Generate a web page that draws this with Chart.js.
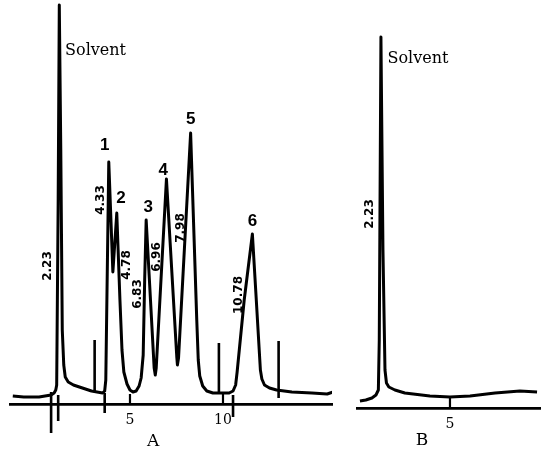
<!DOCTYPE html>
<html>
<head>
<meta charset="utf-8">
<script src="https://cdn.jsdelivr.net/npm/chart.js@4.4.1/dist/chart.umd.min.js"></script>
<style>
  html, body { margin: 0; padding: 0; background: #fff; }
  #wrap { position: relative; width: 543px; height: 456px; overflow: hidden; background: #fff; }
  canvas { position: absolute; top: 0; }
</style>
</head>
<body>
<div id="wrap">
  <canvas id="chartA" width="345" height="456" style="left:0"></canvas>
  <canvas id="chartB" width="198" height="456" style="left:345px"></canvas>
</div>
<script>
// --- Chromatogram A (time in min, detector response) ---
const timeA = [-1.30, -0.71, 0.11, 0.76, 0.92, 1.01, 1.06, 1.14, 1.20, 1.28, 1.36, 1.44, 1.52, 1.68, 1.96,
  2.28, 2.93, 3.53, 3.64, 3.70, 3.86, 4.08, 4.29, 4.46, 4.57, 4.67, 4.84, 5.00, 5.16, 5.33,
  5.49, 5.60, 5.71, 5.79, 5.87, 6.30, 6.36, 6.41, 6.96, 7.52, 7.55, 7.61, 8.26, 8.59, 8.67,
  8.75, 8.91, 9.13, 9.46, 10.33, 10.54, 10.68, 10.76, 11.14, 11.58, 11.79, 12.01, 12.09, 12.23,
  12.50, 12.88, 13.70, 14.78, 15.60, 15.92];
const signalA = [8, 7, 7, 9, 11, 14, 19, 204, 399, 254, 74, 39, 27, 22, 19,
  17, 13, 11, 13, 24, 242, 132, 191, 104, 54, 32, 20, 14, 12, 13,
  18, 26, 49, 124, 184, 36, 29, 36, 225, 46, 39, 46, 271, 84, 44,
  28, 18, 13, 11, 11, 13, 19, 32, 104, 170, 104, 34, 25, 19,
  16, 14, 12, 11, 10, 12];

// recorder event marks (vertical strokes)
const markTimeA = [3.10, 9.78, 12.99, 0.76, 1.14, 3.64, 10.54];
const markFromA = [12, 11, 6, 12, 9, 11, 9];
const markToA   = [64, 61, 63, -29, -17, -9, -13];

const ticksA = [5, 10];

// peak numbers
const peakNames = ['1', '2', '3', '4', '5', '6'];
const peakNameX = [3.64, 4.51, 5.98, 6.79, 8.26, 11.58];
const peakNameY = [259, 206, 197, 234, 285, 183];

// retention times printed by the integrator
const rtTextA = ['2.23', '4.33', '4.78', '6.83', '6.96', '7.98', '10.78'];
const rtXA = [0.60, 3.42, 4.84, 5.43, 6.47, 7.72, 10.87];
const rtYA = [138, 204, 139, 110, 147, 176, 109];

// --- Chromatogram B ---
const timeB = [0.11, 0.43, 0.76, 0.98, 1.11, 1.16, 1.25, 1.36, 1.47, 1.55, 1.68, 2.01, 2.55, 3.91, 5.00, 6.09, 7.45, 8.80, 9.73];
const signalB = [7, 8, 10, 13, 18, 68, 371, 158, 38, 25, 21, 18, 15, 12, 11, 12, 15, 17, 16];
const ticksB = [5];
const rtTextB = ['2.23'];
const rtXB = [0.65];
const rtYB = [194];

const TICK_H = 10;
const serif = '"DejaVu Serif", "Liberation Serif", serif';

const textPlugin = {
  id: 'texts',
  afterDatasetsDraw(chart, args, opts) {
    const ctx = chart.ctx;
    const x = chart.scales.x, y = chart.scales.y;
    ctx.save();
    ctx.fillStyle = '#000';
    ctx.textAlign = 'center';
    ctx.textBaseline = 'middle';
    (opts.items || []).forEach(it => {
      const px = x.getPixelForValue(it.x), py = y.getPixelForValue(it.y);
      ctx.font = it.font;
      if (it.rotate) {
        ctx.save();
        ctx.translate(px, py);
        ctx.rotate(-Math.PI / 2);
        ctx.fillText(it.text, 0, 0);
        ctx.restore();
      } else {
        ctx.fillText(it.text, px, py);
      }
    });
    ctx.restore();
  }
};

function segments(xs, from, to) {
  const pts = [];
  xs.forEach((v, i) => {
    pts.push({ x: v, y: from[i] }, { x: v, y: to[i] }, { x: v, y: null });
  });
  return pts;
}

function makeChart(id, o) {
  const trace = o.time.map((t, i) => ({ x: t, y: o.signal[i] }));
  const tickMarks = segments(o.ticks, o.ticks.map(() => 0), o.ticks.map(() => TICK_H));
  const marks = o.marks ? segments(o.marks.t, o.marks.from, o.marks.to) : [];
  const line = { showLine: true, pointRadius: 0, borderColor: '#000', borderWidth: 2.5, spanGaps: false, tension: 0 };
  return new Chart(document.getElementById(id), {
    type: 'scatter',
    data: {
      datasets: [
        { ...line, data: trace, borderWidth: 3, borderJoinStyle: 'round' },
        { ...line, data: marks, borderWidth: 2.6 },
        { ...line, data: tickMarks, borderWidth: 2.2 }
      ]
    },
    options: {
      responsive: false,
      animation: false,
      devicePixelRatio: 1,
      layout: { padding: { left: o.padL, right: o.padR, top: 0, bottom: 0 }, autoPadding: false },
      plugins: {
        legend: { display: false },
        tooltip: { enabled: false },
        texts: { items: o.texts }
      },
      scales: {
        x: {
          type: 'linear',
          position: { y: 0 },
          min: o.xMin, max: o.xMax,
          afterBuildTicks: s => { s.ticks = o.ticks.map(v => ({ value: v })); },
          grid: { display: false },
          border: { display: true, color: '#000', width: 2.8 },
          ticks: { color: '#000', padding: 0, font: { family: serif, size: 14 }, maxRotation: 0 }
        },
        y: { display: false, min: o.yMin, max: o.yMax }
      }
    },
    plugins: [textPlugin]
  });
}

const boldNum = 'bold 17px "Liberation Sans", Arial, sans-serif';
const rtFont = 'bold 12px "DejaVu Sans", sans-serif';

const textsA = [
  { text: 'Solvent', x: 3.15, y: 353, font: '16px ' + serif },
  { text: 'A', x: 6.25, y: -38, font: '17px ' + serif }
]
  .concat(peakNames.map((t, i) => ({ text: t, x: peakNameX[i], y: peakNameY[i], font: boldNum })))
  .concat(rtTextA.map((t, i) => ({ text: t, x: rtXA[i], y: rtYA[i], font: rtFont, rotate: true })));

const textsB = [
  { text: 'Solvent', x: 3.26, y: 349, font: '16px ' + serif },
  { text: 'B', x: 3.48, y: -33, font: '17px ' + serif }
].concat(rtTextB.map((t, i) => ({ text: t, x: rtXB[i], y: rtYB[i], font: rtFont, rotate: true })));

makeChart('chartA', {
  time: timeA, signal: signalA, ticks: ticksA,
  marks: { t: markTimeA, from: markFromA, to: markToA },
  xMin: -1.45, xMax: 15.86, yMin: -52, yMax: 404,
  padL: 10, padR: 13, texts: textsA
});

makeChart('chartB', {
  time: timeB, signal: signalB, ticks: ticksB,
  xMin: -0.05, xMax: 9.89, yMin: -48, yMax: 408,
  padL: 12, padR: 3, texts: textsB
});
</script>
</body>
</html>
